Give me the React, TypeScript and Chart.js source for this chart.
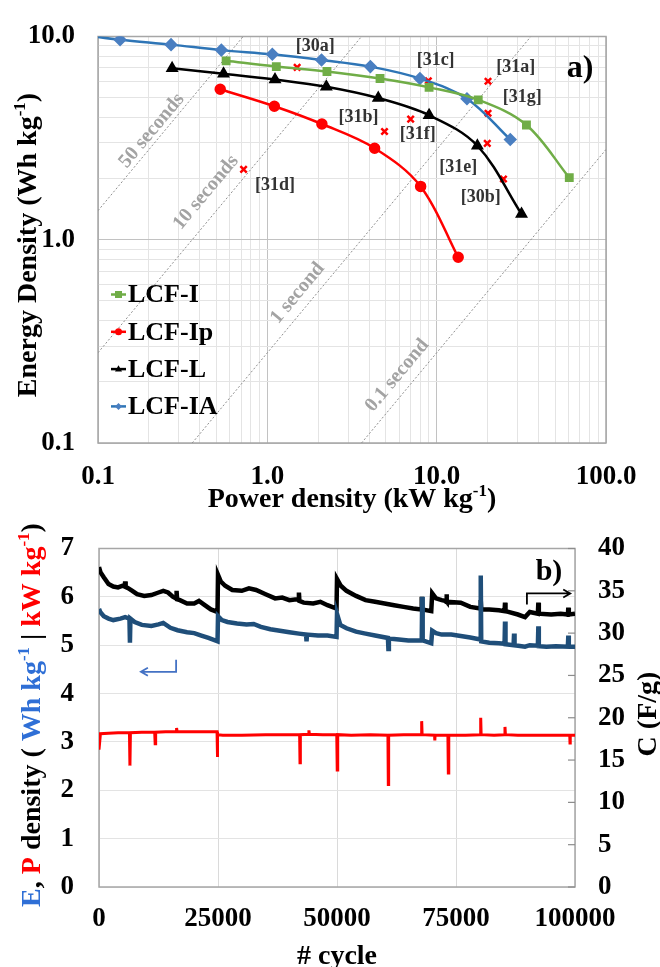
import React, { useEffect, useRef } from 'react';
import { Chart, registerables } from 'chart.js';

Chart.register(...registerables);

const FONT = "'Liberation Serif', 'Times New Roman', serif";

// ---------- Panel a: Ragone plot ----------
const ragoneNames = ['LCF-I', 'LCF-Ip', 'LCF-L', 'LCF-IA'];
const lcfIPower = [0.571, 1.13, 2.25, 4.63, 9.02, 17.6, 33.9, 60.7];
const lcfIEnergy = [7.59, 7.11, 6.73, 6.21, 5.62, 4.88, 3.67, 2.02];
const lcfIpPower = [0.527, 1.1, 2.1, 4.3, 8.04, 13.4];
const lcfIpEnergy = [5.5, 4.54, 3.71, 2.82, 1.83, 0.82];
const lcfLPower = [0.274, 0.551, 1.11, 2.23, 4.52, 9.02, 17.4, 31.7];
const lcfLEnergy = [6.97, 6.56, 6.14, 5.66, 4.98, 4.1, 2.9, 1.34];
const lcfIAPower = [0.08, 0.135, 0.27, 0.535, 1.07, 2.09, 4.06, 7.96, 15.1, 27.2];
const lcfIAEnergy = [10.2, 9.64, 9.12, 8.57, 8.17, 7.67, 7.11, 6.21, 4.94, 3.11];

const refLabels = ['[30a]', '[31d]', '[31c]', '[31a]', '[31g]', '[31f]', '[31b]', '[31e]', '[30b]'];
const refPower = [1.5, 0.724, 8.93, 20.1, 20.1, 7.02, 4.92, 19.9, 24.8];
const refEnergy = [7.05, 2.22, 6.06, 6.02, 4.19, 3.92, 3.41, 2.98, 1.99];
const refLabelPower = [1.92, 1.11, 9.86, 29.3, 32.0, 7.73, 3.45, 13.4, 18.2];
const refLabelEnergy = [8.96, 1.85, 7.65, 7.05, 5.04, 3.29, 3.99, 2.26, 1.61];

const timeLineLabels = ['50 seconds', '10 seconds', '1 second', '0.1 second'];
const timeLinePower = [[0.1, 0.72], [0.1, 3.6], [0.36, 36], [3.6, 100]];
const timeLineEnergy = [[1.39, 10], [0.278, 10], [0.1, 10], [0.1, 2.78]];
const timeLabelPower = [0.208, 0.434, 1.51, 5.85];
const timeLabelEnergy = [3.44, 1.71, 0.546, 0.215];

const xDecades = [0.1, 1, 10, 100];
const xDecadeLabels = ['0.1', '1.0', '10.0', '100.0'];
const yDecades = [0.1, 1, 10];
const yDecadeLabels = ['0.1', '1.0', '10.0'];

// ---------- Panel b: cycling ----------
const cycleTicks = [0, 25000, 50000, 75000, 100000];
const energyData: [number, number][] = [
  [0, 5.75], [300, 5.68], [1000, 5.6], [2000, 5.55], [3000, 5.52], [4500, 5.55], [5500, 5.58], [6400, 5.55],
  [6500, 5.05], [6600, 5.55], [7500, 5.48], [9000, 5.42], [11000, 5.4], [12500, 5.43], [13500, 5.46],
  [15000, 5.36], [16500, 5.31], [18500, 5.27], [20000, 5.25], [21500, 5.2], [23000, 5.15], [24900, 5.08],
  [25000, 5.6], [25800, 5.52], [27000, 5.48], [29000, 5.45], [31000, 5.43], [32500, 5.44], [34000, 5.38],
  [36000, 5.33], [38000, 5.3], [40000, 5.27], [42000, 5.24], [43500, 5.22], [43600, 5.08], [43700, 5.22],
  [46000, 5.2], [48000, 5.2], [49900, 5.17], [50000, 5.65], [50700, 5.42], [52000, 5.35], [54000, 5.28],
  [56000, 5.24], [58000, 5.2], [60700, 5.15], [60800, 4.92], [60900, 5.14], [63000, 5.12], [65000, 5.1],
  [67800, 5.1], [67900, 6.0], [68000, 5.1], [69800, 5.04], [70000, 5.3], [70800, 5.25], [72000, 5.22],
  [74000, 5.22], [76000, 5.19], [78000, 5.16], [80100, 5.12], [80200, 6.44], [80300, 5.08], [82000, 5.05],
  [84000, 5.04], [85200, 5.03], [85300, 5.49], [85400, 5.02], [87100, 5.0], [87200, 5.24], [87300, 5.0],
  [89500, 4.97], [90500, 5.0], [92200, 4.99], [92300, 5.39], [92400, 4.98], [94000, 4.97], [96000, 4.98],
  [98500, 4.97], [98600, 5.2], [98700, 4.97], [100000, 4.97],
];
const capacitanceData: [number, number][] = [
  [0, 37.8], [300, 37.2], [1000, 36.6], [2000, 35.8], [3000, 35.5], [4000, 35.4], [5000, 35.6], [5400, 35.5],
  [5500, 36.1], [5600, 35.5], [7000, 35.0], [8000, 34.6], [9500, 34.4], [11000, 34.5], [12500, 34.8],
  [13500, 35.0], [14500, 34.8], [15500, 34.3], [16200, 34.1], [16300, 35.0], [16400, 34.0], [17000, 33.9],
  [18500, 33.5], [20000, 33.5], [21000, 33.8], [22000, 33.4], [23500, 32.8], [24900, 32.5], [25000, 36.9],
  [25600, 36.1], [26500, 35.6], [28000, 35.1], [30000, 35.0], [31500, 35.3], [33000, 35.1], [35000, 34.6],
  [37000, 34.1], [38500, 34.2], [40000, 33.9], [41500, 34.0], [41900, 33.9], [42000, 34.8], [42100, 33.8],
  [43000, 33.6], [45000, 33.5], [46500, 33.7], [48000, 33.3], [49900, 32.9], [50000, 36.4], [50800, 35.6],
  [52000, 35.0], [54000, 34.4], [56000, 33.9], [58000, 33.7], [60000, 33.5], [62000, 33.3], [64000, 33.1],
  [66000, 32.9], [67700, 32.8], [67800, 34.3], [67900, 32.8], [69800, 32.6], [70000, 34.7], [70800, 34.1],
  [72000, 33.9], [72900, 33.8], [73000, 34.6], [73100, 33.7], [76000, 33.6], [78000, 33.1], [80100, 32.9],
  [80200, 33.9], [80300, 32.8], [82000, 32.8], [84000, 32.7], [85200, 32.6], [85300, 33.6], [85400, 32.6],
  [88000, 32.2], [89500, 31.9], [90500, 32.5], [92200, 32.3], [92300, 33.6], [92400, 32.3], [95000, 32.2],
  [97000, 32.3], [98500, 32.2], [98600, 33.0], [98700, 32.2], [100000, 32.3],
];
const powerData: [number, number][] = [
  [0, 2.84], [300, 3.17], [2000, 3.18], [4000, 3.19], [6400, 3.19], [6500, 2.51], [6600, 3.19], [9000, 3.2],
  [11700, 3.2], [11800, 2.96], [11900, 3.2], [14000, 3.21], [16200, 3.21], [16300, 3.29], [16400, 3.21],
  [19000, 3.21], [22000, 3.21], [24800, 3.21], [24850, 2.69], [24950, 3.15], [26000, 3.14], [30000, 3.14],
  [35000, 3.15], [40000, 3.15], [42150, 3.15], [42230, 2.57], [42300, 3.15], [44000, 3.16], [44100, 3.24],
  [44200, 3.16], [47000, 3.15], [49950, 3.15], [50050, 2.42], [50150, 3.15], [53000, 3.14], [57000, 3.15],
  [60700, 3.14], [60780, 2.12], [60850, 3.14], [64000, 3.15], [67700, 3.15], [67790, 3.43], [67880, 3.15],
  [70500, 3.14], [70550, 3.03], [70600, 3.14], [73300, 3.14], [73390, 2.36], [73480, 3.14], [77000, 3.14],
  [80100, 3.15], [80190, 3.5], [80280, 3.15], [83000, 3.14], [85200, 3.15], [85290, 3.31], [85380, 3.15],
  [88000, 3.14], [92000, 3.14], [96000, 3.14], [98900, 3.14], [98950, 2.98], [99000, 3.14], [100000, 3.14],
];

// ---------- helpers ----------
type Seg = { t: string; c?: string; sup?: boolean };

function drawRich(ctx: CanvasRenderingContext2D, segs: Seg[], cx: number, cy: number, rot: number, size: number) {
  ctx.save();
  ctx.translate(cx, cy);
  ctx.rotate(rot);
  const main = `bold ${size}px ${FONT}`;
  const sup = `bold ${Math.round(size * 0.62)}px ${FONT}`;
  let total = 0;
  const widths = segs.map((s) => {
    ctx.font = s.sup ? sup : main;
    const w = ctx.measureText(s.t).width;
    total += w;
    return w;
  });
  let x = -total / 2;
  ctx.textAlign = 'left';
  ctx.textBaseline = 'alphabetic';
  const base = size * 0.33;
  segs.forEach((s, i) => {
    ctx.font = s.sup ? sup : main;
    ctx.fillStyle = s.c || '#000';
    ctx.fillText(s.t, x, s.sup ? base - size * 0.4 : base);
    x += widths[i];
  });
  ctx.restore();
}

function logTicks(decades: number[]) {
  const out: number[] = [];
  for (let i = 0; i < decades.length; i++) {
    const d = decades[i];
    if (i === decades.length - 1) {
      out.push(d);
      break;
    }
    for (let m = 1; m < 10; m++) out.push(d * m);
  }
  return out;
}
function decadeIndex(v: number, decades: number[]) {
  return decades.findIndex((d) => Math.abs(v / d - 1) < 1e-6);
}

function drawMarker(ctx: CanvasRenderingContext2D, style: string, x: number, y: number, r: number, color: string) {
  ctx.save();
  ctx.fillStyle = color;
  ctx.strokeStyle = color;
  ctx.beginPath();
  if (style === 'rect') {
    ctx.rect(x - r, y - r, 2 * r, 2 * r);
  } else if (style === 'circle') {
    ctx.arc(x, y, r, 0, Math.PI * 2);
  } else if (style === 'triangle') {
    ctx.moveTo(x, y - r * 1.1);
    ctx.lineTo(x + r, y + r * 0.7);
    ctx.lineTo(x - r, y + r * 0.7);
    ctx.closePath();
  } else {
    ctx.moveTo(x, y - r);
    ctx.lineTo(x + r, y);
    ctx.lineTo(x, y + r);
    ctx.lineTo(x - r, y);
    ctx.closePath();
  }
  ctx.fill();
  ctx.restore();
}

const ragoneColors = ['#70ad47', '#ff0000', '#000000', '#2e75b6'];
const ragoneMarkerColors = ['#70ad47', '#ff0000', '#000000', '#4a7fc1'];
const ragoneStyles = ['rect', 'circle', 'triangle', 'rectRot'];

const ragonePlugin = {
  id: 'ragoneDecor',
  beforeDatasetsDraw(chart: any) {
    const { ctx, chartArea: a } = chart;
    ctx.save();
    ctx.strokeStyle = '#a6a6a6';
    ctx.lineWidth = 1.5;
    ctx.strokeRect(a.left, a.top, a.right - a.left, a.bottom - a.top);
    ctx.restore();
  },
  afterDatasetsDraw(chart: any) {
    const { ctx, chartArea: a, scales } = chart;
    const xs = scales.x;
    const ys = scales.y;
    ctx.save();
    // time labels
    timeLineLabels.forEach((lab, i) => {
      const dx = xs.getPixelForValue(timeLinePower[i][1]) - xs.getPixelForValue(timeLinePower[i][0]);
      const dy = ys.getPixelForValue(timeLineEnergy[i][1]) - ys.getPixelForValue(timeLineEnergy[i][0]);
      const ang = Math.atan2(dy, dx);
      ctx.save();
      ctx.translate(xs.getPixelForValue(timeLabelPower[i]), ys.getPixelForValue(timeLabelEnergy[i]));
      ctx.rotate(ang);
      ctx.font = `bold 20px ${FONT}`;
      ctx.fillStyle = '#a3a3a3';
      ctx.textAlign = 'center';
      ctx.textBaseline = 'middle';
      ctx.fillText(lab, 0, 0);
      ctx.restore();
    });
    // reference labels
    ctx.font = `bold 18px ${FONT}`;
    ctx.fillStyle = '#333';
    ctx.textAlign = 'center';
    ctx.textBaseline = 'middle';
    refLabels.forEach((lab, i) => {
      ctx.fillText(lab, xs.getPixelForValue(refLabelPower[i]), ys.getPixelForValue(refLabelEnergy[i]));
    });
    // panel tag
    ctx.font = `bold 32px ${FONT}`;
    ctx.fillStyle = '#000';
    ctx.fillText('a)', a.right - 26, a.top + 32);
    // legend
    ctx.font = `bold 26px ${FONT}`;
    ctx.textAlign = 'left';
    ragoneNames.forEach((name, i) => {
      const ly = a.top + 258 + i * 37.3;
      ctx.strokeStyle = ragoneColors[i];
      ctx.lineWidth = 2.5;
      ctx.beginPath();
      ctx.moveTo(a.left + 13, ly);
      ctx.lineTo(a.left + 28, ly);
      ctx.stroke();
      drawMarker(ctx, ragoneStyles[i], a.left + 20.5, ly, 3.5, ragoneMarkerColors[i]);
      ctx.fillStyle = '#000';
      ctx.fillText(name, a.left + 30, ly + 1);
    });
    ctx.restore();
  },
  afterDraw(chart: any) {
    const { ctx, chartArea: a } = chart;
    drawRich(ctx, [{ t: 'Energy Density (Wh kg' }, { t: '-1', sup: true }, { t: ')' }], 27, 245, -Math.PI / 2, 28);
    drawRich(ctx, [{ t: 'Power density (kW kg' }, { t: '-1', sup: true }, { t: ')' }], (a.left + a.right) / 2, 498, 0, 28);
  },
};

const BLUE_T = '#2f6fd6';
const cyclePlugin = {
  id: 'cycleDecor',
  beforeDatasetsDraw(chart: any) {
    const { ctx, chartArea: a, scales } = chart;
    ctx.save();
    ctx.strokeStyle = '#a6a6a6';
    ctx.lineWidth = 1.5;
    ctx.strokeRect(a.left, a.top, a.right - a.left, a.bottom - a.top);
    // inner ticks on the right axis
    ctx.strokeStyle = '#8c8c8c';
    ctx.lineWidth = 1.2;
    scales.y1.ticks.forEach((t: any) => {
      const py = scales.y1.getPixelForValue(t.value);
      ctx.beginPath();
      ctx.moveTo(a.right - 7, py);
      ctx.lineTo(a.right, py);
      ctx.stroke();
    });
    ctx.restore();
  },
  afterDatasetsDraw(chart: any) {
    const { ctx, chartArea: a, scales } = chart;
    const xs = scales.x;
    const ys = scales.y;
    ctx.save();
    // blue arrow (left axis)
    ctx.strokeStyle = '#4472c4';
    ctx.lineWidth = 1.8;
    let vx = xs.getPixelForValue(16200);
    let hx = xs.getPixelForValue(8800);
    let y0 = ys.getPixelForValue(4.7);
    let y1 = ys.getPixelForValue(4.45);
    ctx.beginPath();
    ctx.moveTo(vx, y0);
    ctx.lineTo(vx, y1);
    ctx.lineTo(hx, y1);
    ctx.moveTo(hx + 7, y1 - 4);
    ctx.lineTo(hx, y1);
    ctx.lineTo(hx + 7, y1 + 4);
    ctx.stroke();
    // black arrow (right axis)
    ctx.strokeStyle = '#000';
    vx = xs.getPixelForValue(89900);
    hx = xs.getPixelForValue(99000);
    y0 = ys.getPixelForValue(5.84);
    y1 = ys.getPixelForValue(6.07);
    ctx.beginPath();
    ctx.moveTo(vx, y0);
    ctx.lineTo(vx, y1);
    ctx.lineTo(hx, y1);
    ctx.moveTo(hx - 7, y1 - 4);
    ctx.lineTo(hx, y1);
    ctx.lineTo(hx - 7, y1 + 4);
    ctx.stroke();
    ctx.font = `bold 30px ${FONT}`;
    ctx.fillStyle = '#000';
    ctx.textAlign = 'center';
    ctx.textBaseline = 'middle';
    ctx.fillText('b)', a.right - 26, a.top + 24);
    ctx.restore();
  },
  afterDraw(chart: any) {
    const { ctx, chartArea: a } = chart;
    drawRich(
      ctx,
      [
        { t: 'E', c: BLUE_T },
        { t: ', ' },
        { t: 'P', c: '#ff0000' },
        { t: ' density ( ' },
        { t: 'Wh kg', c: BLUE_T },
        { t: '-1', c: BLUE_T, sup: true },
        { t: ' | ' },
        { t: 'kW kg', c: '#ff0000' },
        { t: '-1', c: '#ff0000', sup: true },
        { t: ')' },
      ],
      31,
      205,
      -Math.PI / 2,
      28
    );
    drawRich(ctx, [{ t: 'C (F/g)' }], 647, 204, -Math.PI / 2, 28);
    drawRich(ctx, [{ t: '# cycle' }], (a.left + a.right) / 2, 445, 0, 28);
  },
};

const tickFont = { family: FONT, size: 27, weight: 'bold' as const, lineHeight: 1 };

function RagoneChart() {
  const ref = useRef<HTMLCanvasElement>(null);
  useEffect(() => {
    if (!ref.current) return;
    const mk = (p: number[], e: number[]) => p.map((v, i) => ({ x: v, y: e[i] }));
    const powers = [lcfIPower, lcfIpPower, lcfLPower, lcfIAPower];
    const energies = [lcfIEnergy, lcfIpEnergy, lcfLEnergy, lcfIAEnergy];
    const radii = [4.5, 4.5, 5, 5];
    const datasets: any[] = ragoneNames.map((name, i) => ({
      label: name,
      data: mk(powers[i], energies[i]),
      borderColor: ragoneColors[i],
      backgroundColor: ragoneMarkerColors[i],
      pointBackgroundColor: ragoneMarkerColors[i],
      pointBorderColor: ragoneMarkerColors[i],
      pointStyle: ragoneStyles[i],
      pointRadius: radii[i],
      borderWidth: 2.5,
      tension: 0.35,
      showLine: true,
    }));
    datasets.push({
      label: 'refs',
      data: mk(refPower, refEnergy),
      showLine: false,
      pointStyle: 'crossRot',
      pointRadius: 4.5,
      pointBorderWidth: 2.5,
      pointBorderColor: '#ff0000',
      borderColor: '#ff0000',
    });
    timeLineLabels.forEach((lab, i) => {
      datasets.push({
        label: lab,
        data: mk(timeLinePower[i], timeLineEnergy[i]),
        showLine: true,
        borderColor: '#8f8f8f',
        borderWidth: 1,
        borderDash: [2, 2],
        pointRadius: 0,
      });
    });
    const chart = new Chart(ref.current, {
      type: 'scatter',
      data: { datasets },
      options: {
        responsive: false,
        animation: false,
        layout: { padding: { top: 25, left: 0, right: 54, bottom: 0 } },
        plugins: { legend: { display: false }, tooltip: { enabled: false } },
        scales: {
          x: {
            type: 'logarithmic',
            min: 0.1,
            max: 100,
            afterBuildTicks: (s: any) => {
              s.ticks = logTicks(xDecades).map((v) => ({ value: v }));
            },
            afterFit: (s: any) => {
              s.height = 77;
            },
            ticks: {
              autoSkip: false,
              maxRotation: 0,
              padding: 21,
              color: '#000',
              font: tickFont,
              callback: (v: any) => {
                const i = decadeIndex(Number(v), xDecades);
                return i >= 0 ? xDecadeLabels[i] : '';
              },
            },
            grid: {
              drawTicks: false,
              lineWidth: 1,
              color: (c: any) => (c.tick && decadeIndex(c.tick.value, xDecades) >= 0 ? '#c2c2c2' : '#e4e4e4'),
            },
            border: { display: false },
          },
          y: {
            type: 'logarithmic',
            min: 0.1,
            max: 10,
            afterBuildTicks: (s: any) => {
              s.ticks = logTicks(yDecades).map((v) => ({ value: v }));
            },
            afterFit: (s: any) => {
              s.width = 98;
            },
            ticks: {
              autoSkip: false,
              padding: 23,
              color: '#000',
              font: tickFont,
              callback: (v: any) => {
                const i = decadeIndex(Number(v), yDecades);
                return i >= 0 ? yDecadeLabels[i] : '';
              },
            },
            grid: {
              drawTicks: false,
              lineWidth: 1,
              color: (c: any) => (c.tick && decadeIndex(c.tick.value, yDecades) >= 0 ? '#c2c2c2' : '#e4e4e4'),
            },
            border: { display: false },
          },
        },
      } as any,
      plugins: [ragonePlugin],
    });
    return () => chart.destroy();
  }, []);
  return <canvas ref={ref} width={660} height={520} style={{ position: 'absolute', left: 0, top: 0 }} />;
}

function CycleChart() {
  const ref = useRef<HTMLCanvasElement>(null);
  useEffect(() => {
    if (!ref.current) return;
    const toXY = (d: [number, number][]) => d.map(([x, y]) => ({ x, y }));
    const chart = new Chart(ref.current, {
      type: 'line',
      data: {
        datasets: [
          {
            label: 'E density (Wh/kg)',
            data: toXY(energyData),
            borderColor: '#1f4e79',
            borderWidth: 4.5,
            pointRadius: 0,
            tension: 0,
            yAxisID: 'y',
          },
          {
            label: 'C (F/g)',
            data: toXY(capacitanceData),
            borderColor: '#000000',
            borderWidth: 4.5,
            pointRadius: 0,
            tension: 0,
            yAxisID: 'y1',
          },
          {
            label: 'P density (kW/kg)',
            data: toXY(powerData),
            borderColor: '#ff0000',
            borderWidth: 3,
            pointRadius: 0,
            tension: 0,
            yAxisID: 'y',
          },
        ],
      },
      options: {
        responsive: false,
        animation: false,
        layout: { padding: { top: 15, left: 0, right: 0, bottom: 0 } },
        plugins: { legend: { display: false }, tooltip: { enabled: false } },
        scales: {
          x: {
            type: 'linear',
            min: 0,
            max: 100000,
            afterBuildTicks: (s: any) => {
              s.ticks = cycleTicks.map((v) => ({ value: v }));
            },
            afterFit: (s: any) => {
              s.height = 80;
            },
            ticks: {
              padding: 19,
              maxRotation: 0,
              autoSkip: false,
              color: '#000',
              font: tickFont,
              callback: (v: any) => `${v}`,
            },
            grid: { drawTicks: false, color: '#dadada', lineWidth: 1 },
            border: { display: false },
          },
          y: {
            position: 'left',
            min: 0,
            max: 7,
            ticks: { stepSize: 1, padding: 25, color: '#000', font: tickFont },
            afterFit: (s: any) => {
              s.width = 99;
            },
            grid: { drawTicks: false, color: '#e3e3e3', lineWidth: 1 },
            border: { display: false },
          },
          y1: {
            position: 'right',
            min: 0,
            max: 40,
            ticks: { stepSize: 5, padding: 23, color: '#000', font: tickFont },
            afterFit: (s: any) => {
              s.width = 85;
            },
            grid: { drawTicks: false, drawOnChartArea: false },
            border: { display: false },
          },
        },
      } as any,
      plugins: [cyclePlugin],
    });
    return () => chart.destroy();
  }, []);
  return <canvas ref={ref} width={660} height={457} style={{ position: 'absolute', left: 0, top: 510 }} />;
}

export default function App() {
  return (
    <div style={{ position: 'absolute', left: 0, top: 0, width: 660, height: 967, background: '#fff' }}>
      <RagoneChart />
      <CycleChart />
    </div>
  );
}
